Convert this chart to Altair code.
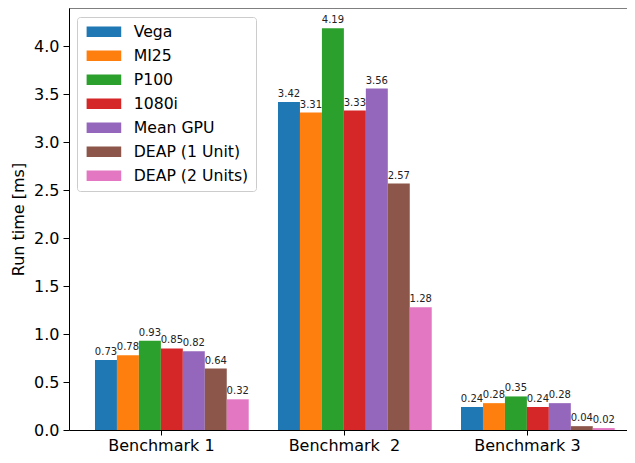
import json
import altair as alt
import pandas as pd

groups = ["Benchmark 1", "Benchmark \u00a02", "Benchmark 3"]
series = ["Vega", "MI25", "P100", "1080i", "Mean GPU", "DEAP (1 Unit)", "DEAP (2 Units)"]
colors = ["#1f77b4", "#ff7f0e", "#2ca02c", "#d62728", "#9467bd", "#8c564b", "#e377c2"]

vega = [0.73, 3.42, 0.24]
mi25 = [0.78, 3.31, 0.28]
p100 = [0.93, 4.19, 0.35]
gtx1080i = [0.85, 3.33, 0.24]
mean_gpu = [0.82, 3.56, 0.28]
deap1 = [0.64, 2.57, 0.04]
deap2 = [0.32, 1.28, 0.02]

y_ticks = [0.0, 0.5, 1.0, 1.5, 2.0, 2.5, 3.0, 3.5, 4.0]
y_max = 4.4

all_vals = [vega, mi25, p100, gtx1080i, mean_gpu, deap1, deap2]
rows = []
for i, name in enumerate(series):
    for g in range(len(groups)):
        rows.append({"g": g, "i": i, "series": name, "value": all_vals[i][g]})
df = pd.DataFrame(rows)

BW = 0.12
FONT = "DejaVu Sans"

base = alt.Chart(df).transform_calculate(
    x0=f"datum.g + (datum.i - 3) * {BW}",
    x1=f"datum.g + (datum.i - 2) * {BW}",
    xc=f"datum.g + (datum.i - 2.5) * {BW}",
)

label_expr = json.dumps(groups) + "[datum.value]"

xscale = alt.Scale(domain=[-0.502, 2.547], nice=False, zero=False)
yscale = alt.Scale(domain=[0, y_max], nice=False)

bars = base.mark_bar().encode(
    x=alt.X("x0:Q", scale=xscale,
            axis=alt.Axis(values=[0, 1, 2], labelExpr=label_expr, title=None,
                          grid=False, tickSize=5, labelPadding=2,
                          labelFontSize=16, labelFont=FONT, labelColor="black",
                          domainColor="black", tickColor="black")),
    x2="x1:Q",
    y=alt.Y("value:Q", scale=yscale,
            axis=alt.Axis(values=y_ticks, format=".1f", title="Run time [ms]",
                          grid=False, tickSize=6, labelPadding=4,
                          labelFontSize=16, labelFont=FONT, labelColor="black",
                          titleFontSize=16, titleFont=FONT, titleFontWeight="normal",
                          titleColor="black", titlePadding=7,
                          domainColor="black", tickColor="black")),
    y2=alt.datum(0),
    color=alt.Color("series:N",
                    scale=alt.Scale(domain=series, range=colors),
                    legend=alt.Legend(orient="none", legendX=8, legendY=9, title=None,
                                      symbolType="M-1,-1H5.6V1H-1Z", symbolSize=110,
                                      symbolStrokeWidth=0, symbolOpacity=1,
                                      labelFontSize=15.7, labelFont=FONT, labelColor="black",
                                      fillColor="rgba(255,255,255,0.8)",
                                      strokeColor="#cccccc", padding=7,
                                      cornerRadius=3, rowPadding=7, labelOffset=34)),
)

texts = base.mark_text(baseline="bottom", dy=-3, fontSize=10, font=FONT,
                       color="#222222").encode(
    x=alt.X("xc:Q", scale=xscale),
    y=alt.Y("value:Q", scale=yscale),
    text=alt.Text("value:Q", format=".2f"),
)

top = alt.Chart(pd.DataFrame({"top": [y_max]})).mark_rule(
    color="black", strokeWidth=1).encode(y=alt.Y("top:Q", scale=yscale))

chart = alt.layer(bars, texts, top).properties(
    width=558, height=422,
    autosize=alt.AutoSizeParams(type="none"),
    padding={"left": 61, "top": 0, "right": 0, "bottom": 25},
).configure_view(strokeWidth=0)

chart.save("out.html", embed_options={"renderer": "svg", "actions": False})
